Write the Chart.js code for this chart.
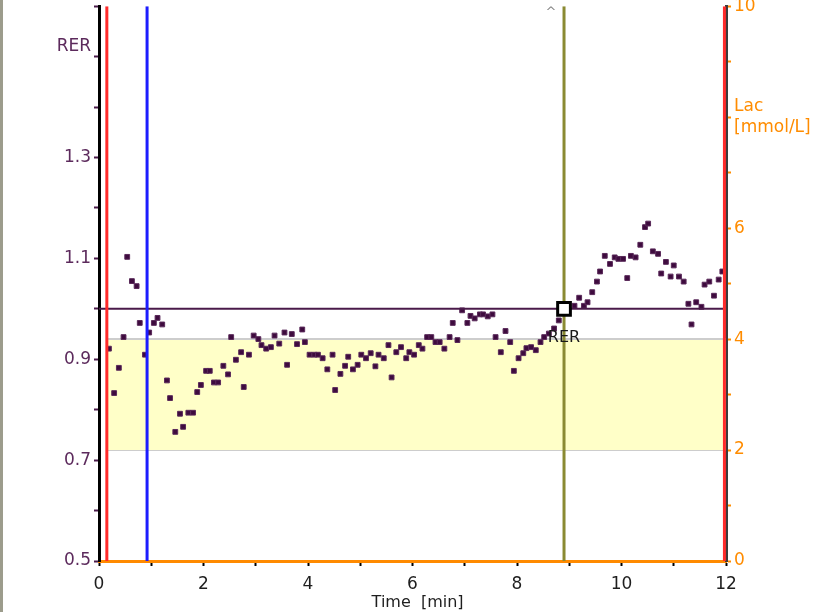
<!DOCTYPE html>
<html>
<head>
<meta charset="utf-8">
<script src="https://cdn.jsdelivr.net/npm/chart.js@4/dist/chart.umd.min.js"></script>
<style>
  html, body { margin: 0; padding: 0; background: #fff; overflow: hidden; }
  body { border-left: 3px solid #9c9c8c; height: 612px; box-sizing: border-box; }
  /* labels on the top tick push the plot down; pull the canvas up to match */
  canvas { display: block; margin-top: -7px; margin-left: -3px; }
</style>
</head>
<body>
<canvas id="rerChart" width="817" height="619"></canvas>
<script>
// ---- data ----
const timeMin = [0.19,0.29,0.38,0.47,0.54,0.63,0.72,0.78,0.88,0.96,1.05,1.12,1.21,1.30,1.36,1.46,1.55,1.61,1.71,1.80,
  1.88,1.95,2.05,2.12,2.20,2.28,2.38,2.47,2.53,2.62,2.72,2.77,2.87,2.96,3.05,3.11,3.20,3.29,3.36,3.45,
  3.55,3.60,3.69,3.79,3.89,3.94,4.03,4.12,4.19,4.28,4.37,4.47,4.52,4.62,4.71,4.77,4.86,4.95,5.02,5.11,
  5.20,5.29,5.35,5.45,5.54,5.60,5.69,5.78,5.88,5.94,6.03,6.12,6.19,6.28,6.36,6.44,6.52,6.61,6.71,6.77,
  6.86,6.95,7.05,7.11,7.19,7.29,7.35,7.44,7.53,7.59,7.69,7.78,7.87,7.94,8.03,8.12,8.18,8.27,8.36,8.45,
  8.52,8.61,8.71,8.80,9.10,9.19,9.28,9.35,9.44,9.53,9.59,9.68,9.78,9.87,9.94,10.03,10.11,10.18,10.27,10.36,
  10.45,10.51,10.60,10.70,10.76,10.85,10.94,11.00,11.10,11.19,11.28,11.34,11.43,11.53,11.59,11.68,11.77,11.86,11.93];
const rerValues = [0.921,0.833,0.883,0.944,1.103,1.055,1.045,0.972,0.909,0.953,0.972,0.982,0.969,0.858,0.823,0.756,0.792,0.766,0.794,0.794,
  0.835,0.849,0.877,0.877,0.854,0.854,0.887,0.870,0.944,0.899,0.914,0.845,0.909,0.947,0.940,0.928,0.921,0.924,0.947,0.931,
  0.953,0.889,0.950,0.930,0.959,0.934,0.909,0.909,0.909,0.902,0.880,0.909,0.839,0.871,0.887,0.905,0.880,0.889,0.909,0.902,
  0.912,0.886,0.909,0.902,0.928,0.864,0.914,0.924,0.902,0.914,0.909,0.928,0.921,0.944,0.944,0.934,0.934,0.921,0.944,0.972,
  0.938,0.997,0.972,0.986,0.981,0.989,0.989,0.985,0.989,0.944,0.914,0.956,0.934,0.877,0.902,0.912,0.922,0.924,0.918,0.934,
  0.944,0.951,0.961,0.977,1.006,1.022,1.006,1.013,1.033,1.054,1.074,1.105,1.089,1.102,1.099,1.099,1.061,1.105,1.102,1.127,
  1.162,1.169,1.114,1.109,1.070,1.093,1.064,1.086,1.064,1.054,1.010,0.969,1.013,1.004,1.048,1.054,1.026,1.058,1.074];

const refTimes = [0.15, 0.92, 8.9, 11.97];
const refColors = ['#ff2b2b', '#1c1cff', '#8a8a32', '#ff2b2b'];
const rerThreshold = 1.0;
const lacBand = [2, 4];
const bandStart = 0.15;
const marker = { t: 8.9, rer: 1.0, label: 'RER' };

const xTickLabels = ['0','','2','','4','','6','','8','','10','','12'];
const rerTickLabels = ['0.5','','0.7','','0.9','','1.1','','1.3','',['RER',''],''];
const lacTickLabels = ['0','','2','','4','','6','',['Lac','[mmol/L]'],'','10'];

const FONT = 'DejaVu Sans';
const RER_MIN = 0.5, RER_MAX = 1.6;

// vertical reference lines
const vlineSets = refTimes.map((t, i) => ({
  type: 'line',
  data: [{ x: t, y: RER_MIN }, { x: t, y: RER_MAX }],
  borderColor: refColors[i],
  borderWidth: 3,
  pointRadius: 0,
  yAxisID: 'y',
  order: 1
}));

// captions on top of the plot
const extras = {
  id: 'extras',
  afterDatasetsDraw(c) {
    const g = c.ctx, xs = c.scales.x, ys = c.scales.y;
    const px = xs.getPixelForValue(marker.t), py = ys.getPixelForValue(marker.rer);
    g.save();
    g.font = '16px "' + FONT + '"';
    g.fillStyle = '#1a1a1a';
    g.textAlign = 'center';
    g.textBaseline = 'middle';
    g.fillText(marker.label, px, py + 29);
    g.fillStyle = '#888';
    g.font = '13px "' + FONT + '"';
    g.fillText('^', xs.getPixelForValue(refTimes[2]) - 13, c.chartArea.top + 6);
    g.restore();
  }
};

new Chart(document.getElementById('rerChart'), {
  data: {
    datasets: [
      {
        type: 'scatter',
        data: [{ x: marker.t, y: marker.rer }],
        pointStyle: 'rect',
        pointRadius: 9,
        pointBorderWidth: 3,
        pointBorderColor: '#000',
        pointBackgroundColor: '#fff',
        yAxisID: 'y',
        order: 0
      },
      ...vlineSets,
      {
        type: 'line',
        data: [{ x: 0, y: rerThreshold }, { x: 12, y: rerThreshold }],
        borderColor: '#4a1a4a',
        borderWidth: 2,
        pointRadius: 0,
        yAxisID: 'y',
        order: 2
      },
      {
        type: 'scatter',
        data: timeMin.map((t, i) => ({ x: t, y: rerValues[i] })),
        pointStyle: 'rect',
        pointRadius: 3.4,
        pointBorderWidth: 1,
        pointBackgroundColor: '#3e0b3e',
        pointBorderColor: '#5a2a5a',
        yAxisID: 'y',
        order: 3
      },
      {
        type: 'line',
        data: [{ x: bandStart, y: lacBand[1] }, { x: 12, y: lacBand[1] }],
        borderColor: '#cdcdcd',
        borderWidth: 2,
        backgroundColor: '#ffffc8',
        fill: { value: lacBand[0] },
        pointRadius: 0,
        yAxisID: 'yLac',
        order: 4
      },
      {
        type: 'line',
        data: [{ x: bandStart, y: lacBand[0] }, { x: 12, y: lacBand[0] }],
        borderColor: '#cdcdcd',
        borderWidth: 2,
        pointRadius: 0,
        yAxisID: 'yLac',
        order: 4
      }
    ]
  },
  options: {
    responsive: false,
    animation: false,
    layout: { padding: 0 },
    plugins: { legend: { display: false }, tooltip: { enabled: false } },
    scales: {
      x: {
        type: 'linear',
        min: 0, max: 12,
        afterFit: s => { s.height = 51; },
        ticks: {
          stepSize: 1,
          autoSkip: false,
          maxRotation: 0,
          color: '#1e1e1e',
          font: { family: FONT, size: 17 },
          padding: 8,
          callback: (v, i) => xTickLabels[i]
        },
        grid: { drawOnChartArea: false, color: '#000', tickLength: 5, tickWidth: 2 },
        border: { color: '#ff8a00', width: 3 },
        title: {
          display: true,
          text: '  Time  [min]',
          color: '#1e1e1e',
          font: { family: FONT, size: 16 },
          padding: { top: 0, bottom: 0 }
        }
      },
      y: {
        position: 'left',
        min: RER_MIN, max: RER_MAX,
        afterFit: s => { s.width = 99; },
        afterBuildTicks: s => {
          s.ticks = rerTickLabels.map((_, i) => ({ value: Math.round((RER_MIN + i * 0.1) * 10) / 10 }));
        },
        ticks: {
          autoSkip: false,
          color: '#5c2a5c',
          font: { family: FONT, size: 17 },
          padding: 3,
          callback: (v, i) => rerTickLabels[i]
        },
        grid: { drawOnChartArea: false, color: '#4a1a4a', tickLength: 5, tickWidth: 2 },
        border: { color: '#000', width: 3 }
      },
      yLac: {
        position: 'right',
        min: 0, max: 10,
        afterFit: s => { s.width = 91; },
        ticks: {
          stepSize: 1,
          autoSkip: false,
          color: '#ff8c00',
          font: { family: FONT, size: 17 },
          padding: 3,
          callback: (v, i) => lacTickLabels[i]
        },
        grid: { drawOnChartArea: false, color: '#ff8c00', tickLength: 5, tickWidth: 2 },
        border: { color: '#3c3c3c', width: 3 }
      }
    }
  },
  plugins: [extras]
});
</script>
</body>
</html>
